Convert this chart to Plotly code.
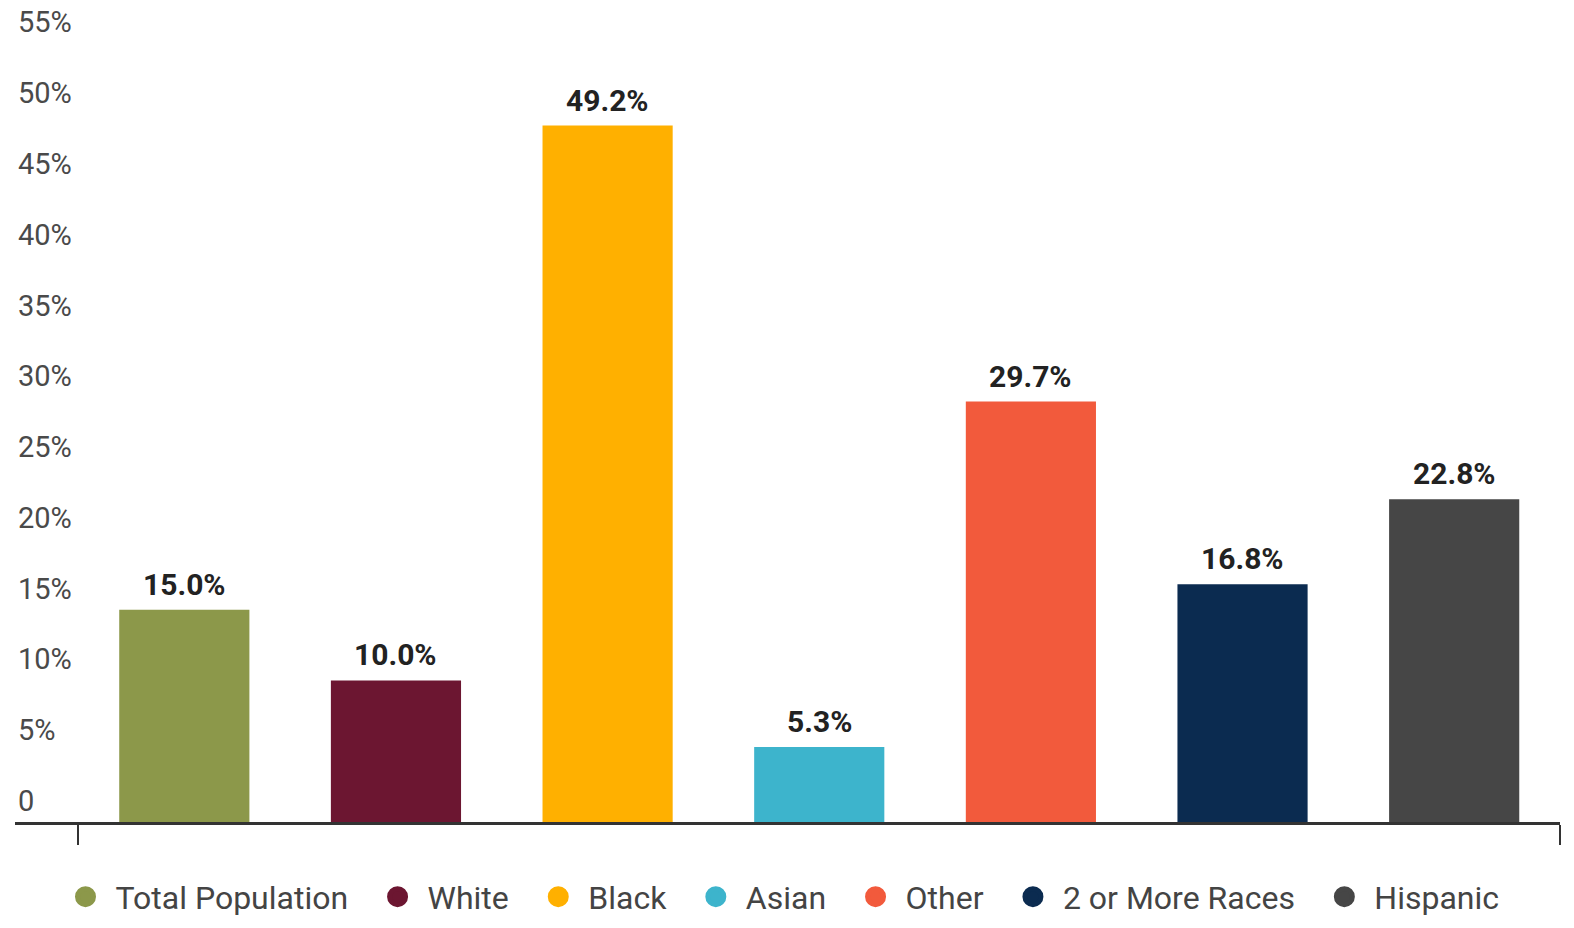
import plotly.graph_objects as go

categories = ["Total Population", "White", "Black", "Asian", "Other", "2 or More Races", "Hispanic"]
values = [15.0, 10.0, 49.2, 5.3, 29.7, 16.8, 22.8]
colors = ["#8C984A", "#6C1631", "#FFB000", "#3DB4CC", "#F25A3C", "#0B2B50", "#464646"]
y_tick_values = [0, 5, 10, 15, 20, 25, 30, 35, 40, 45, 50, 55]
y_tick_labels = ["0", "5%", "10%", "15%", "20%", "25%", "30%", "35%", "40%", "45%", "50%", "55%"]

FONT = "Roboto, 'Open Sans', sans-serif"
fig = go.Figure()

for i, (cat, val, col) in enumerate(zip(categories, values, colors)):
    fig.add_trace(go.Bar(
        x=[i], y=[val], name=cat, marker=dict(color=col, line=dict(width=0)),
        width=0.615, showlegend=False, hoverinfo="skip",
    ))
    fig.add_trace(go.Scatter(
        x=[None], y=[None], mode="markers", name=cat + "\u00a0\u2009",
        marker=dict(symbol="circle", size=16, color=col, line=dict(color=col, width=10)),
        showlegend=True,
    ))
    fig.add_annotation(
        x=i, y=val, text=f"{val:.1f}%", showarrow=False,
        xref="x", yref="y", yanchor="bottom", yshift=6,
        font=dict(family=FONT, size=30, color="#222222", weight="bold"),
    )

# y-axis labels sit above their (invisible) gridlines, left-aligned
for v, lab in zip(y_tick_values, y_tick_labels):
    fig.add_annotation(
        x=0, y=v, xref="paper", yref="y", text=lab, showarrow=False,
        xanchor="left", yanchor="middle", xshift=1, yshift=21,
        font=dict(family=FONT, size=29, color="#4a4a4a"),
    )

# page body adds an 8px offset; figure sized to fit the 1574x928 window
fig.update_layout(
    width=1558, height=912,
    paper_bgcolor="white", plot_bgcolor="white",
    margin=dict(l=7, r=6, t=0, b=98, pad=0, autoexpand=False),
    barmode="overlay",
    font=dict(family=FONT, color="#444444"),
    showlegend=True,
    legend=dict(
        orientation="h", x=0.5, xanchor="center", y=-0.092, yanchor="middle",
        font=dict(family=FONT, size=32, color="#444444"),
        itemsizing="trace", itemwidth=50, bgcolor="rgba(0,0,0,0)",
    ),
    xaxis=dict(
        range=[-0.8, 6.5], showgrid=False, zeroline=False,
        showline=True, linecolor="#333333", linewidth=3,
        tickmode="array", tickvals=[-0.5, 6.5], ticktext=["", ""],
        ticks="outside", ticklen=20, tickwidth=1.5, tickcolor="#333333",
        fixedrange=True,
    ),
    yaxis=dict(
        range=[0, 57.5], showgrid=False, zeroline=False, showline=False,
        tickmode="array", tickvals=y_tick_values, showticklabels=False,
        ticks="", fixedrange=True,
    ),
)

fig.write_html("out.html")
